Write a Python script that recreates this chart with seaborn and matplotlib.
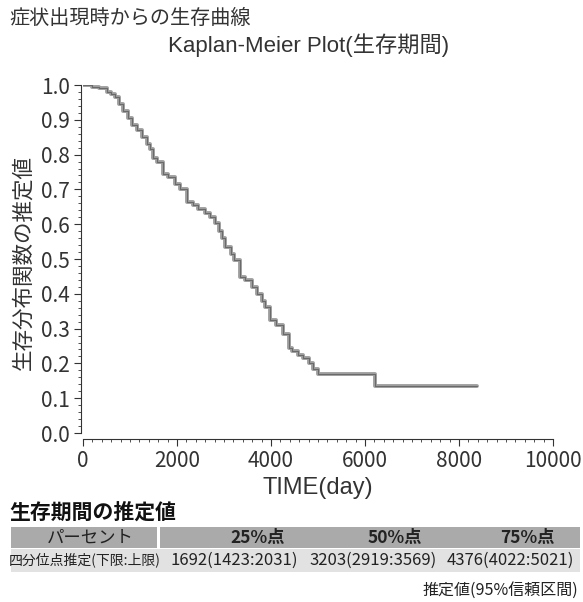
import matplotlib
matplotlib.use("Agg")
import matplotlib.pyplot as plt
from matplotlib.patches import Rectangle
from matplotlib.ticker import MultipleLocator
import pandas as pd
import seaborn as sns

# Kaplan-Meier step estimate (days, survival probability)
days = [0, 200, 350, 500, 600, 680, 760, 850, 950, 1040, 1150, 1250, 1360,
        1420, 1490, 1580, 1692, 1800, 1950, 2060, 2210, 2350, 2450, 2600,
        2700, 2810, 2900, 2960, 3020, 3150, 3203, 3340, 3450, 3600, 3700,
        3800, 3870, 3980, 4100, 4250, 4376, 4450, 4580, 4680, 4800, 4900,
        5000, 6210, 8380]
survival = [1.0, 0.995, 0.99, 0.98, 0.975, 0.966, 0.945, 0.925, 0.905, 0.885,
            0.87, 0.85, 0.83, 0.815, 0.79, 0.78, 0.745, 0.735, 0.715, 0.70,
            0.664, 0.655, 0.645, 0.632, 0.62, 0.603, 0.58, 0.56, 0.534, 0.515,
            0.497, 0.448, 0.44, 0.42, 0.40, 0.38, 0.362, 0.325, 0.31, 0.285,
            0.245, 0.235, 0.225, 0.215, 0.20, 0.185, 0.17, 0.135, 0.135]

x_ticks = [0, 2000, 4000, 6000, 8000, 10000]
y_ticks = [0.0, 0.1, 0.2, 0.3, 0.4, 0.5, 0.6, 0.7, 0.8, 0.9, 1.0]

title_main = "症状出現時からの生存曲線"
title_sub = "Kaplan-Meier Plot(生存期間)"
x_label = "TIME(day)"
y_label = "生存分布関数の推定値"

table_title = "生存期間の推定値"
table_header = ["パーセント", "25%点", "50%点", "75%点"]
row_label = "四分位点推定(下限:上限)"
row_values = ["1692(1423:2031)", "3203(2919:3569)", "4376(4022:5021)"]
table_note = "推定値(95%信頼区間)"

sns.set_theme(style="ticks")
narrow = ["Liberation Sans Narrow", "Noto Sans CJK JP", "DejaVu Sans"]
cjk = ["Noto Sans CJK JP", "DejaVu Sans"]
plt.rcParams["font.family"] = narrow

W, H = 583, 602
fig = plt.figure(figsize=(W / 100, H / 100), dpi=100)
fig.patch.set_facecolor("white")

def fx(px):
    return px / W

def fy(py):
    return 1 - py / H

ax = fig.add_axes([fx(83), fy(433), fx(553) - fx(83), fy(85) - fy(433)])
ax.set_facecolor("white")

df = pd.DataFrame({"day": days, "surv": survival})
sns.lineplot(data=df, x="day", y="surv", ax=ax, drawstyle="steps-post",
             estimator=None, sort=False, color="#a0a0a0", linewidth=2.8)
sns.lineplot(data=df, x="day", y="surv", ax=ax, drawstyle="steps-post",
             estimator=None, sort=False, color="#6a6a6a", linewidth=0.8)

ax.set_xlim(0, 10000)
ax.set_ylim(0, 1.0)
ax.set_xticks(x_ticks)
ax.set_yticks(y_ticks)
ax.set_xticklabels([str(v) for v in x_ticks])
ax.set_yticklabels([f"{v:.1f}" for v in y_ticks])
ax.xaxis.set_minor_locator(MultipleLocator(200))
ax.yaxis.set_minor_locator(MultipleLocator(0.02))
ax.tick_params(axis="both", which="major", direction="out", length=5,
               width=0.8, color="#333333", labelsize=15, labelcolor="#333333",
               pad=3)
ax.tick_params(axis="both", which="minor", direction="out", length=2.5,
               width=0.6, color="#333333")
sns.despine(ax=ax, offset={"left": 1.5, "bottom": 4})
for side in ("left", "bottom"):
    ax.spines[side].set_color("#333333")
    ax.spines[side].set_linewidth(0.8)

ax.set_xlabel("")
ax.set_ylabel("")
fig.text(fx(318), fy(488), x_label, ha="center", va="center", fontsize=17,
         color="#333333", family=["Liberation Sans", "Noto Sans CJK JP"])
fig.text(fx(23), fy(262), y_label, ha="center", va="center", rotation=90,
         fontsize=15.5, color="#333333", family=cjk)

fig.text(fx(9), fy(18), title_main, ha="left", va="center", fontsize=14.5,
         color="#333333", family=cjk)
fig.text(fx(309), fy(45), title_sub, ha="center", va="center", fontsize=16,
         color="#333333", family=["Liberation Sans", "Noto Sans CJK JP"])

# Quartile estimate table
fig.text(fx(9), fy(512), table_title, ha="left", va="center", fontsize=15,
         fontweight="bold", color="#111111", family=cjk)

hdr_top, hdr_bot = 527, 548
row_bot = 572
fig.patches.append(Rectangle((fx(11), fy(hdr_bot)), fx(157) - fx(11),
                             fy(hdr_top) - fy(hdr_bot), transform=fig.transFigure,
                             facecolor="#aaaaaa", edgecolor="none"))
fig.patches.append(Rectangle((fx(160), fy(hdr_bot)), fx(580) - fx(160),
                             fy(hdr_top) - fy(hdr_bot), transform=fig.transFigure,
                             facecolor="#aaaaaa", edgecolor="none"))
fig.patches.append(Rectangle((fx(11), fy(row_bot)), fx(580) - fx(11),
                             fy(hdr_bot + 1) - fy(row_bot), transform=fig.transFigure,
                             facecolor="#e2e2e2", edgecolor="none"))

hdr_y = fy((hdr_top + hdr_bot) / 2)
fig.text(fx(90), hdr_y, table_header[0], ha="center", va="center",
         fontsize=12.5, color="#222222", family=cjk)
for cx, lab in zip([258, 395, 527], table_header[1:]):
    fig.text(fx(cx), hdr_y, lab, ha="center", va="center", fontsize=12.5,
             fontweight="bold", color="#222222", family=cjk)

row_y = fy((hdr_bot + row_bot) / 2)
fig.text(fx(85), row_y, row_label, ha="center", va="center", fontsize=10,
         color="#222222", family=cjk)
for cx, val in zip([234, 373, 510], row_values):
    fig.text(fx(cx), row_y, val, ha="center", va="center", fontsize=12,
             color="#222222", family=narrow)

fig.text(fx(578), fy(590), table_note, ha="right", va="center", fontsize=11.5,
         color="#222222", family=cjk)

fig.savefig("out.png", dpi=100, facecolor="white")
